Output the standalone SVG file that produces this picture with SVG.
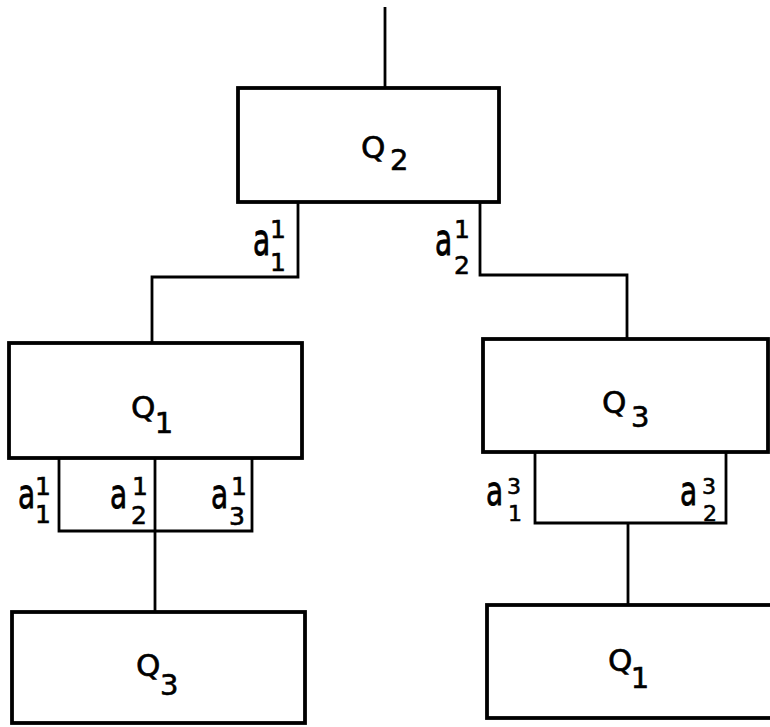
<svg xmlns="http://www.w3.org/2000/svg" width="770" height="727" viewBox="0 0 770 727">
<style>
.box{fill:#fff;stroke:#000;stroke-width:3.8;stroke-linejoin:miter}
.ln{fill:none;stroke:#000;stroke-width:2.8;stroke-linejoin:miter}
text{font-family:"DejaVu Sans","Liberation Sans",sans-serif;fill:#000;stroke:#000;stroke-width:0.6}
.Q{font-size:31px}
.qs{font-size:29px}
.a{font-size:28px}
.s{font-size:25px}
.t{font-size:22px}
.m{text-anchor:middle}
</style>
<rect width="770" height="727" fill="#fff"/>
<g id="connectors">
<path class="ln" d="M385,7 V88"/>
<path class="ln" d="M298,202 V277 H152 V343"/>
<path class="ln" d="M480,202 V275 H627 V339"/>
<path class="ln" d="M59,458 V531 H252 V458"/>
<path class="ln" d="M155,458 V611"/>
<path class="ln" d="M535,452 V523 H726 V452"/>
<path class="ln" d="M628,523 V605"/>
</g>
<g id="Q2">
<rect class="box" x="238" y="88" width="261" height="114"/>
<text class="Q" x="361" y="158">Q</text><text class="qs" x="390" y="170">2</text>
</g>
<g id="Q1">
<rect class="box" x="9" y="343" width="293" height="115"/>
<text class="Q" x="131" y="418">Q</text><text class="qs m" x="164" y="433">1</text>
</g>
<g id="Q3">
<rect class="box" x="483" y="339" width="285" height="113"/>
<text class="Q" x="602" y="413">Q</text><text class="qs" x="631" y="427">3</text>
</g>
<g id="Q3b">
<rect class="box" x="12" y="612" width="293" height="111"/>
<text class="Q" x="136" y="676">Q</text><text class="qs" x="160" y="695">3</text>
</g>
<g id="Q1b">
<rect class="box" x="487" y="605" width="290" height="113"/>
<text class="Q" x="608" y="671">Q</text><text class="qs m" x="640" y="688">1</text>
</g>
<g id="labels">
<text class="a" transform="translate(253,255) scale(1,1.6)">a</text><text class="s m" x="278" y="238">1</text><text class="s m" x="278" y="271">1</text>
<text class="a" transform="translate(435,255) scale(1,1.6)">a</text><text class="s m" x="462" y="238">1</text><text class="s" x="454" y="274">2</text>
<text class="a" transform="translate(18,508) scale(1,1.45)">a</text><text class="s m" x="43" y="495">1</text><text class="s m" x="43" y="523">1</text>
<text class="a" transform="translate(110,508) scale(1,1.45)">a</text><text class="s m" x="140" y="495">1</text><text class="s" x="131" y="524">2</text>
<text class="a" transform="translate(211,508) scale(1,1.45)">a</text><text class="s m" x="239" y="495">1</text><text class="s" x="229" y="525">3</text>
<text class="a" transform="translate(486,505) scale(1,1.45)">a</text><text class="t" x="507" y="494">3</text><text class="t m" x="515" y="521">1</text>
<text class="a" transform="translate(680,505) scale(1,1.45)">a</text><text class="t" x="702" y="494">3</text><text class="t" x="703" y="521">2</text>
</g>
</svg>
